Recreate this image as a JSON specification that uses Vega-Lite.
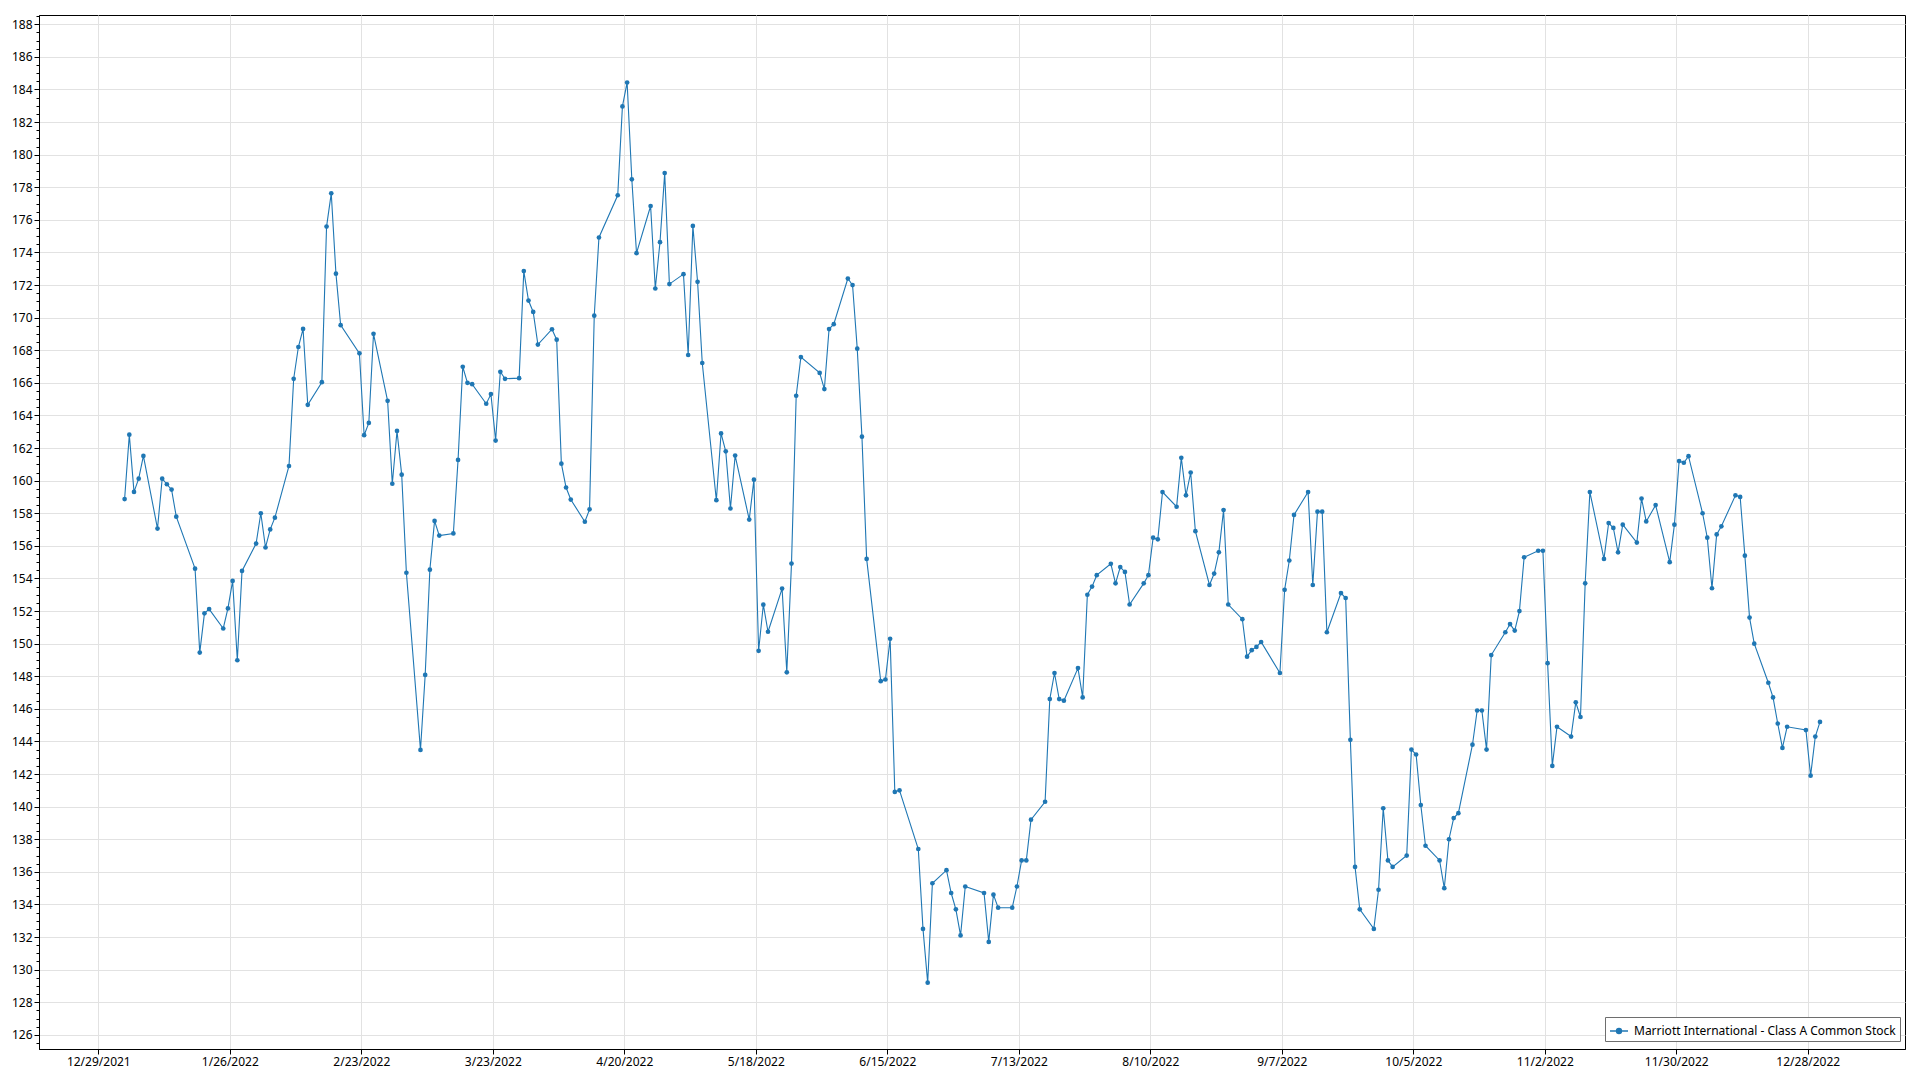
{
  "$schema": "https://vega.github.io/schema/vega-lite/v6.json",
  "width": 1866,
  "height": 1034,
  "autosize": {"type": "none"},
  "padding": {"left": 39, "top": 15, "right": 15, "bottom": 31},
  "background": "white",
  "config": {
    "view": {"stroke": "#000000", "strokeWidth": 1},
    "font": "Noto Sans",
    "axis": {"labelFont": "Noto Sans", "labelFontSize": 12, "labelColor": "#000000", "domainColor": "#000000", "tickColor": "#000000", "gridColor": "#e2e2e2", "gridWidth": 1}
  },
  "data": {"values": [
    {"date":"2022-01-03","close":158.87},{"date":"2022-01-04","close":162.82},{"date":"2022-01-05","close":159.31},{"date":"2022-01-06","close":160.12},{"date":"2022-01-07","close":161.52},
    {"date":"2022-01-10","close":157.06},{"date":"2022-01-11","close":160.12},{"date":"2022-01-12","close":159.78},{"date":"2022-01-13","close":159.45},{"date":"2022-01-14","close":157.79},
    {"date":"2022-01-18","close":154.6},{"date":"2022-01-19","close":149.45},{"date":"2022-01-20","close":151.86},{"date":"2022-01-21","close":152.12},
    {"date":"2022-01-24","close":150.93},{"date":"2022-01-25","close":152.16},{"date":"2022-01-26","close":153.85},{"date":"2022-01-27","close":148.98},{"date":"2022-01-28","close":154.46},
    {"date":"2022-01-31","close":156.14},{"date":"2022-02-01","close":158.0},{"date":"2022-02-02","close":155.9},{"date":"2022-02-03","close":157.01},{"date":"2022-02-04","close":157.73},
    {"date":"2022-02-07","close":160.9},{"date":"2022-02-08","close":166.25},{"date":"2022-02-09","close":168.2},{"date":"2022-02-10","close":169.31},{"date":"2022-02-11","close":164.65},
    {"date":"2022-02-14","close":166.04},{"date":"2022-02-15","close":175.59},{"date":"2022-02-16","close":177.63},{"date":"2022-02-17","close":172.7},{"date":"2022-02-18","close":169.54},
    {"date":"2022-02-22","close":167.81},{"date":"2022-02-23","close":162.79},{"date":"2022-02-24","close":163.54},{"date":"2022-02-25","close":169.01},
    {"date":"2022-02-28","close":164.9},{"date":"2022-03-01","close":159.81},{"date":"2022-03-02","close":163.05},{"date":"2022-03-03","close":160.37},{"date":"2022-03-04","close":154.35},
    {"date":"2022-03-07","close":143.48},{"date":"2022-03-08","close":148.08},{"date":"2022-03-09","close":154.54},{"date":"2022-03-10","close":157.53},{"date":"2022-03-11","close":156.63},
    {"date":"2022-03-14","close":156.76},{"date":"2022-03-15","close":161.27},{"date":"2022-03-16","close":166.99},{"date":"2022-03-17","close":166.0},{"date":"2022-03-18","close":165.92},
    {"date":"2022-03-21","close":164.72},{"date":"2022-03-22","close":165.31},{"date":"2022-03-23","close":162.46},{"date":"2022-03-24","close":166.68},{"date":"2022-03-25","close":166.25},
    {"date":"2022-03-28","close":166.29},{"date":"2022-03-29","close":172.86},{"date":"2022-03-30","close":171.05},{"date":"2022-03-31","close":170.35},{"date":"2022-04-01","close":168.35},
    {"date":"2022-04-04","close":169.29},{"date":"2022-04-05","close":168.65},{"date":"2022-04-06","close":161.04},{"date":"2022-04-07","close":159.58},{"date":"2022-04-08","close":158.84},
    {"date":"2022-04-11","close":157.48},{"date":"2022-04-12","close":158.24},{"date":"2022-04-13","close":170.12},{"date":"2022-04-14","close":174.92},
    {"date":"2022-04-18","close":177.51},{"date":"2022-04-19","close":182.96},{"date":"2022-04-20","close":184.43},{"date":"2022-04-21","close":178.49},{"date":"2022-04-22","close":173.96},
    {"date":"2022-04-25","close":176.85},{"date":"2022-04-26","close":171.79},{"date":"2022-04-27","close":174.63},{"date":"2022-04-28","close":178.87},{"date":"2022-04-29","close":172.06},
    {"date":"2022-05-02","close":172.67},{"date":"2022-05-03","close":167.71},{"date":"2022-05-04","close":175.63},{"date":"2022-05-05","close":172.2},{"date":"2022-05-06","close":167.22},
    {"date":"2022-05-09","close":158.8},{"date":"2022-05-10","close":162.9},{"date":"2022-05-11","close":161.8},{"date":"2022-05-12","close":158.29},{"date":"2022-05-13","close":161.54},
    {"date":"2022-05-16","close":157.61},{"date":"2022-05-17","close":160.06},{"date":"2022-05-18","close":149.56},{"date":"2022-05-19","close":152.39},{"date":"2022-05-20","close":150.73},
    {"date":"2022-05-23","close":153.38},{"date":"2022-05-24","close":148.24},{"date":"2022-05-25","close":154.91},{"date":"2022-05-26","close":165.21},{"date":"2022-05-27","close":167.58},
    {"date":"2022-05-31","close":166.61},{"date":"2022-06-01","close":165.62},{"date":"2022-06-02","close":169.3},{"date":"2022-06-03","close":169.6},
    {"date":"2022-06-06","close":172.4},{"date":"2022-06-07","close":172.0},{"date":"2022-06-08","close":168.1},{"date":"2022-06-09","close":162.7},{"date":"2022-06-10","close":155.2},
    {"date":"2022-06-13","close":147.7},{"date":"2022-06-14","close":147.8},{"date":"2022-06-15","close":150.3},{"date":"2022-06-16","close":140.9},{"date":"2022-06-17","close":141.0},
    {"date":"2022-06-21","close":137.4},{"date":"2022-06-22","close":132.5},{"date":"2022-06-23","close":129.2},{"date":"2022-06-24","close":135.3},
    {"date":"2022-06-27","close":136.1},{"date":"2022-06-28","close":134.7},{"date":"2022-06-29","close":133.7},{"date":"2022-06-30","close":132.1},{"date":"2022-07-01","close":135.1},
    {"date":"2022-07-05","close":134.7},{"date":"2022-07-06","close":131.7},{"date":"2022-07-07","close":134.6},{"date":"2022-07-08","close":133.8},
    {"date":"2022-07-11","close":133.8},{"date":"2022-07-12","close":135.1},{"date":"2022-07-13","close":136.7},{"date":"2022-07-14","close":136.7},{"date":"2022-07-15","close":139.2},
    {"date":"2022-07-18","close":140.3},{"date":"2022-07-19","close":146.6},{"date":"2022-07-20","close":148.2},{"date":"2022-07-21","close":146.6},{"date":"2022-07-22","close":146.5},
    {"date":"2022-07-25","close":148.5},{"date":"2022-07-26","close":146.7},{"date":"2022-07-27","close":153.0},{"date":"2022-07-28","close":153.5},{"date":"2022-07-29","close":154.2},
    {"date":"2022-08-01","close":154.9},{"date":"2022-08-02","close":153.7},{"date":"2022-08-03","close":154.7},{"date":"2022-08-04","close":154.4},{"date":"2022-08-05","close":152.4},
    {"date":"2022-08-08","close":153.7},{"date":"2022-08-09","close":154.2},{"date":"2022-08-10","close":156.5},{"date":"2022-08-11","close":156.4},{"date":"2022-08-12","close":159.3},
    {"date":"2022-08-15","close":158.4},{"date":"2022-08-16","close":161.4},{"date":"2022-08-17","close":159.1},{"date":"2022-08-18","close":160.5},{"date":"2022-08-19","close":156.9},
    {"date":"2022-08-22","close":153.6},{"date":"2022-08-23","close":154.3},{"date":"2022-08-24","close":155.6},{"date":"2022-08-25","close":158.2},{"date":"2022-08-26","close":152.4},
    {"date":"2022-08-29","close":151.5},{"date":"2022-08-30","close":149.2},{"date":"2022-08-31","close":149.6},{"date":"2022-09-01","close":149.8},{"date":"2022-09-02","close":150.1},
    {"date":"2022-09-06","close":148.2},{"date":"2022-09-07","close":153.3},{"date":"2022-09-08","close":155.1},{"date":"2022-09-09","close":157.9},
    {"date":"2022-09-12","close":159.3},{"date":"2022-09-13","close":153.6},{"date":"2022-09-14","close":158.1},{"date":"2022-09-15","close":158.1},{"date":"2022-09-16","close":150.7},
    {"date":"2022-09-19","close":153.1},{"date":"2022-09-20","close":152.8},{"date":"2022-09-21","close":144.1},{"date":"2022-09-22","close":136.3},{"date":"2022-09-23","close":133.7},
    {"date":"2022-09-26","close":132.5},{"date":"2022-09-27","close":134.9},{"date":"2022-09-28","close":139.9},{"date":"2022-09-29","close":136.7},{"date":"2022-09-30","close":136.3},
    {"date":"2022-10-03","close":137.0},{"date":"2022-10-04","close":143.5},{"date":"2022-10-05","close":143.2},{"date":"2022-10-06","close":140.1},{"date":"2022-10-07","close":137.6},
    {"date":"2022-10-10","close":136.7},{"date":"2022-10-11","close":135.0},{"date":"2022-10-12","close":138.0},{"date":"2022-10-13","close":139.3},{"date":"2022-10-14","close":139.6},
    {"date":"2022-10-17","close":143.8},{"date":"2022-10-18","close":145.9},{"date":"2022-10-19","close":145.9},{"date":"2022-10-20","close":143.5},{"date":"2022-10-21","close":149.3},
    {"date":"2022-10-24","close":150.7},{"date":"2022-10-25","close":151.2},{"date":"2022-10-26","close":150.8},{"date":"2022-10-27","close":152.0},{"date":"2022-10-28","close":155.3},
    {"date":"2022-10-31","close":155.7},{"date":"2022-11-01","close":155.7},{"date":"2022-11-02","close":148.8},{"date":"2022-11-03","close":142.5},{"date":"2022-11-04","close":144.9},
    {"date":"2022-11-07","close":144.3},{"date":"2022-11-08","close":146.4},{"date":"2022-11-09","close":145.5},{"date":"2022-11-10","close":153.7},{"date":"2022-11-11","close":159.3},
    {"date":"2022-11-14","close":155.2},{"date":"2022-11-15","close":157.4},{"date":"2022-11-16","close":157.1},{"date":"2022-11-17","close":155.6},{"date":"2022-11-18","close":157.3},
    {"date":"2022-11-21","close":156.2},{"date":"2022-11-22","close":158.9},{"date":"2022-11-23","close":157.5},{"date":"2022-11-25","close":158.5},
    {"date":"2022-11-28","close":155.0},{"date":"2022-11-29","close":157.3},{"date":"2022-11-30","close":161.2},{"date":"2022-12-01","close":161.1},{"date":"2022-12-02","close":161.5},
    {"date":"2022-12-05","close":158.0},{"date":"2022-12-06","close":156.5},{"date":"2022-12-07","close":153.4},{"date":"2022-12-08","close":156.7},{"date":"2022-12-09","close":157.2},
    {"date":"2022-12-12","close":159.1},{"date":"2022-12-13","close":159.0},{"date":"2022-12-14","close":155.4},{"date":"2022-12-15","close":151.6},{"date":"2022-12-16","close":150.0},
    {"date":"2022-12-19","close":147.6},{"date":"2022-12-20","close":146.7},{"date":"2022-12-21","close":145.1},{"date":"2022-12-22","close":143.6},{"date":"2022-12-23","close":144.9},
    {"date":"2022-12-27","close":144.7},{"date":"2022-12-28","close":141.9},{"date":"2022-12-29","close":144.3},{"date":"2022-12-30","close":145.2}
  ]},
  "encoding": {
    "x": {
      "field": "date", "type": "temporal", "title": null,
      "scale": {"type": "utc", "domain": [1639592928000, 1673922240000], "nice": false},
      "axis": {
        "values": [1640684160000, 1643103360000, 1645522560000, 1647941760000, 1650360960000, 1652780160000, 1655199360000, 1657618560000, 1660037760000, 1662456960000, 1664876160000, 1667295360000, 1669714560000, 1672133760000],
        "labelExpr": "utcFormat(toNumber(datum.value) + 51840000, '%-m/%-d/%Y')",
        "grid": true, "tickSize": 5, "labelPadding": 2, "labelFlush": false, "labelOverlap": false
      }
    },
    "y": {
      "field": "close", "type": "quantitative", "title": null,
      "scale": {"domain": [125.13, 188.57], "nice": false, "zero": false},
      "axis": {
        "values": [125.5,126,126.5,127,127.5,128,128.5,129,129.5,130,130.5,131,131.5,132,132.5,133,133.5,134,134.5,135,135.5,136,136.5,137,137.5,138,138.5,139,139.5,140,140.5,141,141.5,142,142.5,143,143.5,144,144.5,145,145.5,146,146.5,147,147.5,148,148.5,149,149.5,150,150.5,151,151.5,152,152.5,153,153.5,154,154.5,155,155.5,156,156.5,157,157.5,158,158.5,159,159.5,160,160.5,161,161.5,162,162.5,163,163.5,164,164.5,165,165.5,166,166.5,167,167.5,168,168.5,169,169.5,170,170.5,171,171.5,172,172.5,173,173.5,174,174.5,175,175.5,176,176.5,177,177.5,178,178.5,179,179.5,180,180.5,181,181.5,182,182.5,183,183.5,184,184.5,185,185.5,186,186.5,187,187.5,188,188.5],
        "labelExpr": "datum.value % 2 === 0 ? format(datum.value, 'd') : ''",
        "grid": true,
        "gridOpacity": {"condition": {"test": "datum.value % 2 === 0", "value": 1}, "value": 0},
        "tickSize": {"condition": {"test": "datum.value % 2 === 0", "value": 5}, "value": 3},
        "labelPadding": 2, "labelOverlap": false, "labelFlush": false
      }
    },
    "color": {
      "datum": "Marriott International - Class A Common Stock",
      "type": "nominal",
      "scale": {"range": ["#1f77b4"]},
      "legend": {
        "title": null, "orient": "none", "legendX": 1566, "legendY": 1002,
        "direction": "vertical",
        "padding": 4, "strokeColor": "#6e6e6e", "fillColor": "#ffffff", "cornerRadius": 0,
        "symbolType": "M-1,0L1,0M-0.27,0a0.27,0.27 0 1,0 0.54,0a0.27,0.27 0 1,0 -0.54,0",
        "symbolSize": 324, "symbolStrokeWidth": 1.5, "symbolFillColor": "#1f77b4", "symbolStrokeColor": "#1f77b4",
        "labelFont": "Noto Sans", "labelFontSize": 12, "labelColor": "#000000", "labelLimit": 400, "labelOffset": 5
      }
    }
  },
  "layer": [
    {"mark": {"type": "line", "strokeWidth": 1.1, "color": "#1f77b4"}},
    {"mark": {"type": "point", "filled": true, "size": 22, "opacity": 1, "color": "#1f77b4"}}
  ]
}
